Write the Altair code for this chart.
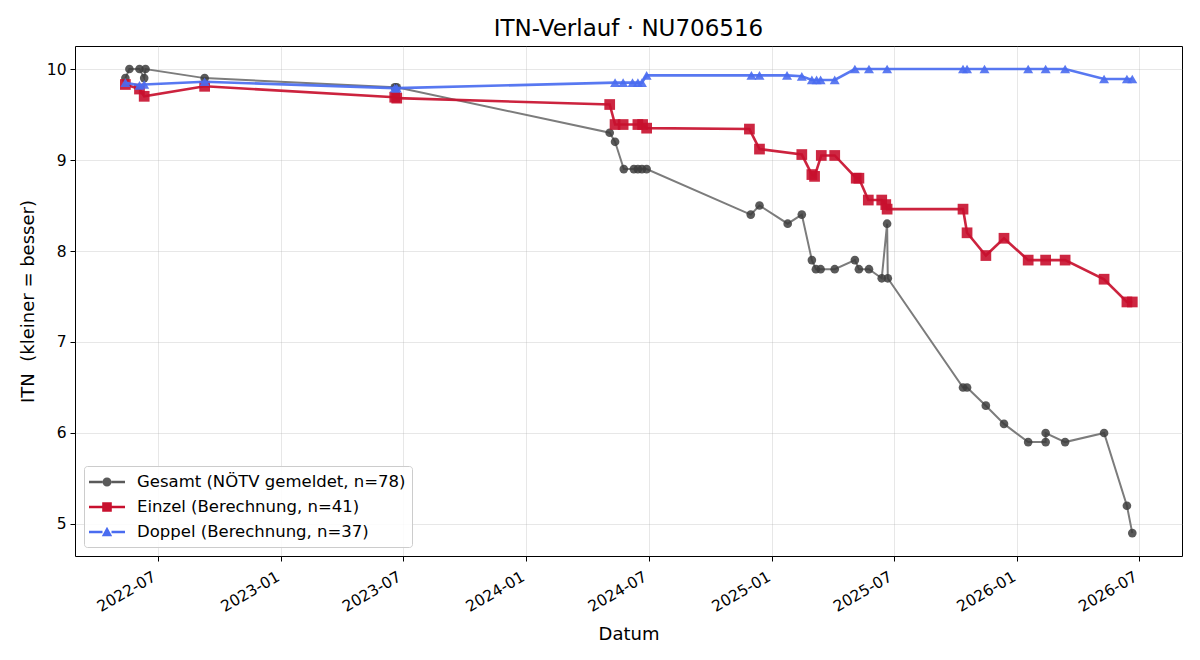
import altair as alt
import pandas as pd

# ---------------- data ----------------
gesamt_dates = ["2022-05-14", "2022-05-20", "2022-06-04", "2022-06-11", "2022-06-13",
                "2022-09-09", "2023-06-19", "2023-06-22", "2024-05-04", "2024-05-12",
                "2024-05-25", "2024-06-09", "2024-06-15", "2024-06-21", "2024-06-28",
                "2024-11-30", "2024-12-13", "2025-01-24", "2025-02-14", "2025-03-01",
                "2025-03-07", "2025-03-14", "2025-04-04", "2025-05-04", "2025-05-10",
                "2025-05-25", "2025-06-13", "2025-06-21", "2025-06-22", "2025-10-12",
                "2025-10-18", "2025-11-15", "2025-12-12", "2026-01-17", "2026-02-12",
                "2026-02-12", "2026-03-13", "2026-05-10", "2026-06-13", "2026-06-21"]
gesamt_values = [9.9, 10.0, 10.0, 9.9, 10.0,
                 9.9, 9.8, 9.8, 9.3, 9.2,
                 8.9, 8.9, 8.9, 8.9, 8.9,
                 8.4, 8.5, 8.3, 8.4, 7.9,
                 7.8, 7.8, 7.8, 7.9, 7.8,
                 7.8, 7.7, 8.3, 7.7, 6.5,
                 6.5, 6.3, 6.1, 5.9, 5.9,
                 6.0, 5.9, 6.0, 5.2, 4.9]

einzel_dates = ["2022-05-14", "2022-06-04", "2022-06-11", "2022-09-09", "2023-06-19",
                "2023-06-22", "2024-05-04", "2024-05-12", "2024-05-24", "2024-06-15",
                "2024-06-22", "2024-06-28", "2024-11-28", "2024-12-13", "2025-02-14",
                "2025-03-01", "2025-03-05", "2025-03-15", "2025-04-04", "2025-05-06",
                "2025-05-10", "2025-05-24", "2025-06-13", "2025-06-19", "2025-06-21",
                "2025-10-12", "2025-10-18", "2025-11-15", "2025-12-12", "2026-01-17",
                "2026-02-12", "2026-03-13", "2026-05-10", "2026-06-13", "2026-06-21"]
einzel_values = [9.83, 9.78, 9.70, 9.81, 9.69,
                 9.68, 9.61, 9.39, 9.39, 9.39,
                 9.39, 9.35, 9.34, 9.12, 9.06,
                 8.84, 8.82, 9.05, 9.05, 8.80,
                 8.80, 8.56, 8.56, 8.51, 8.46,
                 8.46, 8.20, 7.95, 8.14, 7.90,
                 7.90, 7.90, 7.69, 7.44, 7.44]

doppel_dates = ["2022-05-14", "2022-06-04", "2022-06-11", "2022-09-09", "2023-06-19",
                "2023-06-22", "2024-05-12", "2024-05-24", "2024-06-07", "2024-06-15",
                "2024-06-21", "2024-06-28", "2024-12-01", "2024-12-13", "2025-01-23",
                "2025-02-14", "2025-03-01", "2025-03-08", "2025-03-14", "2025-04-04",
                "2025-05-04", "2025-05-25", "2025-06-21", "2025-10-12", "2025-10-18",
                "2025-11-13", "2026-01-17", "2026-02-12", "2026-03-13", "2026-05-10",
                "2026-06-13", "2026-06-21"]
doppel_values = [9.85, 9.82, 9.83, 9.86, 9.79,
                 9.79, 9.85, 9.85, 9.85, 9.85,
                 9.85, 9.93, 9.93, 9.93, 9.93,
                 9.92, 9.88, 9.88, 9.88, 9.88,
                 10.0, 10.0, 10.0, 10.0, 10.0,
                 10.0, 10.0, 10.0, 10.0, 9.89,
                 9.89, 9.89]

series_names = ["Gesamt (NÖTV gemeldet, n=78)",
                "Einzel (Berechnung, n=41)",
                "Doppel (Berechnung, n=37)"]
y_ticks = [5, 6, 7, 8, 9, 10]
x_tick_months = [(2022, 7), (2023, 1), (2023, 7), (2024, 1), (2024, 7),
                 (2025, 1), (2025, 7), (2026, 1), (2026, 7)]

# ---------------- styling ----------------
GRAY_LINE = "#7c7c7c"
GRAY_MARK = "#3d3d3d"
RED = "#c8102e"
BLUE = "#4a6cf0"
FONT = "DejaVu Sans"


def frame(dates, values, name):
    return pd.DataFrame({"date": dates, "itn": values,
                         "idx": list(range(len(dates))), "series": name})


df_g = frame(gesamt_dates, gesamt_values, series_names[0])
df_e = frame(einzel_dates, einzel_values, series_names[1])
df_d = frame(doppel_dates, doppel_values, series_names[2])
df_all = pd.concat([df_g, df_e, df_d], ignore_index=True)

x_enc = alt.X(
    "date:T",
    title="Datum",
    scale=alt.Scale(type="utc", domain=[
        alt.DateTime(year=2022, month=2, date=28, utc=True),
        alt.DateTime(year=2026, month=9, date=3, utc=True)]),
    axis=alt.Axis(
        values=[alt.DateTime(year=y, month=m, date=1, utc=True) for y, m in x_tick_months],
        format="%Y-%m", labelAngle=-30, labelAlign="right", labelBaseline="top",
        labelOffset=-7, tickSize=5, labelPadding=8, titlePadding=11, domain=False),
)
y_enc = alt.Y(
    "itn:Q",
    title="ITN\u00a0 (kleiner = besser)",
    scale=alt.Scale(domain=[4.648, 10.253], nice=False, zero=False),
    axis=alt.Axis(values=y_ticks, tickSize=5, labelPadding=4, titlePadding=9, domain=False),
)
order_enc = alt.Order("idx:Q")


def line_layer(df, color, width, opacity=1.0):
    return alt.Chart(df).mark_line(color=color, strokeWidth=width, opacity=opacity).encode(
        x=x_enc, y=y_enc, order=order_enc)


def point_layer(df, shape, color, size, opacity=0.9):
    return alt.Chart(df).mark_point(shape=shape, filled=True, color=color, size=size,
                                    opacity=opacity, strokeWidth=0).encode(x=x_enc, y=y_enc)


# legend symbols: line + marker (custom paths in unit coordinates)
def seg():
    return "M-1.8,-0.12L-0.45,-0.12L-0.45,0.12L-1.8,0.12Z M0.45,-0.12L1.8,-0.12L1.8,0.12L0.45,0.12Z"


legend_shapes = [
    seg() + " M-0.45,0A0.45,0.45,0,1,1,0.45,0A0.45,0.45,0,1,1,-0.45,0Z",
    seg() + " M-0.48,-0.48L0.48,-0.48L0.48,0.48L-0.48,0.48Z",
    seg() + " M0,-0.52L0.52,0.42L-0.52,0.42Z",
]

# legend-only layer: no visible data, explicit domains give the legend entries
legend_layer = alt.Chart(df_all).transform_filter("datum.itn > 100").mark_point(
    filled=True, size=400, opacity=1).encode(
    x=x_enc, y=y_enc,
    color=alt.Color("series:N", scale=alt.Scale(domain=series_names,
                                                range=["#5a5a5a", RED, BLUE]),
                    legend=alt.Legend(title=None, orient="bottom-left", offset=9,
                                      symbolOpacity=1, symbolSize=400, symbolStrokeWidth=0,
                                      symbolOffset=7, labelOffset=20, rowPadding=6,
                                      labelFontSize=16.5, labelFont=FONT, labelLimit=500,
                                      labelColor="black",
                                      padding=6, strokeColor="#cccccc",
                                      fillColor="rgba(255,255,255,0.85)", cornerRadius=3)),
    shape=alt.Shape("series:N", scale=alt.Scale(domain=series_names, range=legend_shapes)),
)

chart = alt.layer(
    line_layer(df_g, GRAY_LINE, 2.0),
    point_layer(df_g, "circle", GRAY_MARK, 75, 0.85),
    line_layer(df_e, RED, 2.6, 0.92),
    point_layer(df_e, "square", RED, 115, 0.9),
    line_layer(df_d, BLUE, 2.6, 0.92),
    point_layer(df_d, "triangle-up", BLUE, 100, 0.9),
    legend_layer,
).properties(
    width=1107, height=510,
    autosize=alt.AutoSizeParams(type="none"),
    padding={"left": 75, "top": 46, "right": 18, "bottom": 104},
    title=alt.TitleParams("ITN-Verlauf · NU706516", font=FONT, fontSize=23,
                          fontWeight="normal", color="black", anchor="middle", offset=5),
).configure_view(
    stroke="black", strokeWidth=1,
).configure_axis(
    grid=True, gridColor="#b0b0b0", gridOpacity=0.3, gridWidth=1,
    tickColor="black", tickWidth=1,
    labelFont=FONT, labelFontSize=15.5, labelColor="black",
    titleFont=FONT, titleFontSize=18, titleFontWeight="normal", titleColor="black",
)

chart.save("out.html", embed_options={"renderer": "svg", "actions": False})
